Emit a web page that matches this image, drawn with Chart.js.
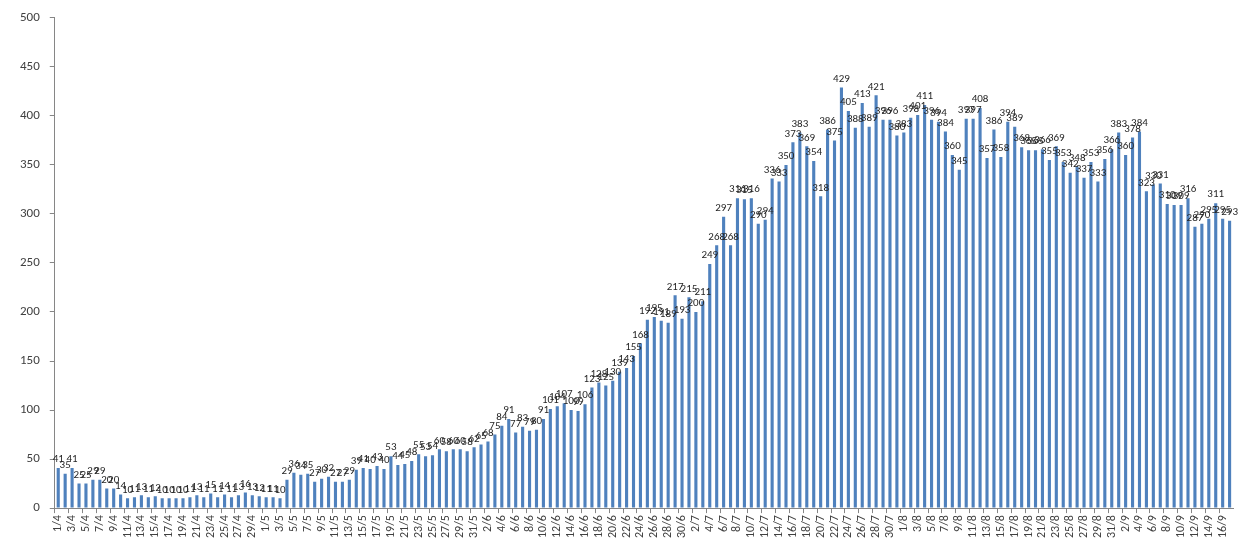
<!DOCTYPE html>
<html>
<head>
<meta charset="utf-8">
<script src="https://cdn.jsdelivr.net/npm/chart.js@4/dist/chart.umd.min.js"></script>
<style>
  html, body { margin: 0; padding: 0; background: #fff; }
  #wrap { width: 1246px; height: 548px; position: relative; }
</style>
</head>
<body>
<div id="wrap"><canvas id="chart" width="1246" height="548"></canvas></div>
<script>
// day labels, 1 April -> 17 September
const aprDays = ['1/4','2/4','3/4','4/4','5/4','6/4','7/4','8/4','9/4','10/4','11/4','12/4','13/4','14/4','15/4','16/4','17/4','18/4','19/4','20/4','21/4','22/4','23/4','24/4','25/4','26/4','27/4','28/4','29/4','30/4'];
const mayDays = ['1/5','2/5','3/5','4/5','5/5','6/5','7/5','8/5','9/5','10/5','11/5','12/5','13/5','14/5','15/5','16/5','17/5','18/5','19/5','20/5','21/5','22/5','23/5','24/5','25/5','26/5','27/5','28/5','29/5','30/5','31/5'];
const junDays = ['1/6','2/6','3/6','4/6','5/6','6/6','7/6','8/6','9/6','10/6','11/6','12/6','13/6','14/6','15/6','16/6','17/6','18/6','19/6','20/6','21/6','22/6','23/6','24/6','25/6','26/6','27/6','28/6','29/6','30/6'];
const julDays = ['1/7','2/7','3/7','4/7','5/7','6/7','7/7','8/7','9/7','10/7','11/7','12/7','13/7','14/7','15/7','16/7','17/7','18/7','19/7','20/7','21/7','22/7','23/7','24/7','25/7','26/7','27/7','28/7','29/7','30/7','31/7'];
const augDays = ['1/8','2/8','3/8','4/8','5/8','6/8','7/8','8/8','9/8','10/8','11/8','12/8','13/8','14/8','15/8','16/8','17/8','18/8','19/8','20/8','21/8','22/8','23/8','24/8','25/8','26/8','27/8','28/8','29/8','30/8','31/8'];
const sepDays = ['1/9','2/9','3/9','4/9','5/9','6/9','7/9','8/9','9/9','10/9','11/9','12/9','13/9','14/9','15/9','16/9','17/9'];

// daily values per month
const aprVals = [41,35,41,25,25,29,29,20,20,14,10,11,13,11,12,10,10,10,10,11,13,11,15,11,14,11,13,16,13,12];
const mayVals = [11,11,10,29,36,34,35,27,30,32,27,27,29,39,41,40,43,40,53,44,45,48,55,53,54,60,58,60,60,58,62];
const junVals = [65,68,75,84,91,77,83,79,80,91,101,104,107,100,99,106,123,128,125,130,139,143,155,168,192,195,191,189,217,193];
const julVals = [215,200,211,249,268,297,268,316,315,316,290,294,336,333,350,373,383,369,354,318,386,375,429,405,388,413,389,421,396,396,380];
const augVals = [383,398,401,411,396,394,384,360,345,397,397,408,357,386,358,394,389,368,365,365,366,355,369,353,342,348,337,353,333,356,366];
const sepVals = [383,360,378,384,323,330,331,310,309,309,316,287,290,295,311,295,293];

const yTicks = [0,50,100,150,200,250,300,350,400,450,500];

const labels = [].concat(aprDays, mayDays, junDays, julDays, augDays, sepDays);
const values = [].concat(aprVals, mayVals, junVals, julVals, augVals, sepVals);

const FONT = 'Carlito, Calibri, Lato, sans-serif';

// value labels above each bar, like the spreadsheet data labels
const barLabels = {
    id: 'barLabels',
    afterDatasetsDraw(chart) {
        const ctx = chart.ctx;
        const meta = chart.getDatasetMeta(0);
        ctx.save();
        ctx.font = '11px ' + FONT;
        ctx.fillStyle = '#262626';
        ctx.textAlign = 'center';
        ctx.textBaseline = 'bottom';
        meta.data.forEach((bar, i) => {
            ctx.fillText(String(values[i]), bar.x, bar.y - 3);
        });
        ctx.restore();
    }
};

new Chart(document.getElementById('chart'), {
    type: 'bar',
    data: {
        labels: labels,
        datasets: [{
            data: values,
            backgroundColor: '#4f81bd',
            borderWidth: 0,
            barPercentage: 0.45,
            categoryPercentage: 1.0
        }]
    },
    options: {
        responsive: false,
        animation: false,
        layout: { padding: { left: 10, right: 4, top: 10, bottom: 8 } },
        plugins: { legend: { display: false }, tooltip: { enabled: false } },
        scales: {
            x: {
                grid: {
                    display: true,
                    drawOnChartArea: false,
                    tickLength: 5,
                    color: ctx => (ctx.index % 2 === 0 ? '#868686' : 'rgba(0,0,0,0)')
                },
                border: { display: true, color: '#868686' },
                ticks: {
                    autoSkip: false,
                    minRotation: 90,
                    maxRotation: 90,
                    padding: 2,
                    color: '#404040',
                    font: { family: FONT, size: 12 },
                    callback: (v, i) => (i % 2 === 0 ? labels[i] : '')
                }
            },
            y: {
                min: 0,
                max: 500,
                afterBuildTicks: axis => { axis.ticks = yTicks.map(v => ({ value: v })); },
                grid: { display: true, drawOnChartArea: false, tickLength: 5, color: '#868686' },
                border: { display: true, color: '#868686' },
                ticks: {
                    padding: 10,
                    color: '#404040',
                    font: { family: FONT, size: 13 }
                }
            }
        }
    },
    plugins: [barLabels]
});
</script>
</body>
</html>
